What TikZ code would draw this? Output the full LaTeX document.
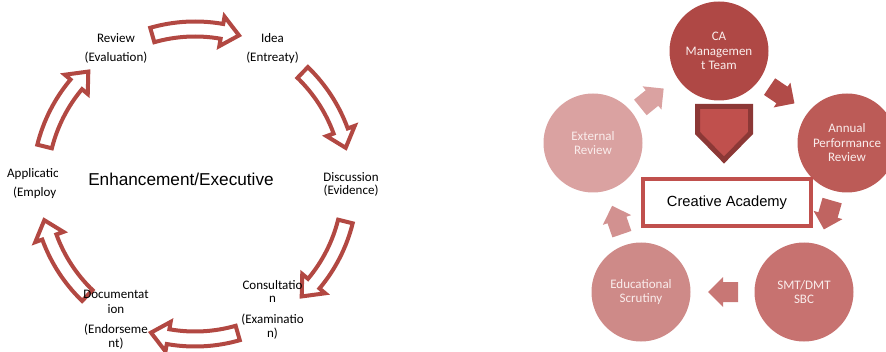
\documentclass[tikz,border=0pt]{standalone}
\usepackage{fontspec}
\setmainfont{Carlito}
\newfontfamily\arialf{Liberation Sans}
\definecolor{arcred}{HTML}{B24842}
\definecolor{cA}{HTML}{AF4845}
\definecolor{cB}{HTML}{BC5B57}
\definecolor{cC}{HTML}{C77270}
\definecolor{cD}{HTML}{CE8A88}
\definecolor{cE}{HTML}{DAA2A1}
\definecolor{boxred}{HTML}{C0504D}
\definecolor{pentdark}{HTML}{8C3836}
\definecolor{circtext}{HTML}{FAEDEC}
\tikzset{
  lbl/.style={font=\fontsize{13}{14}\selectfont, inner sep=0pt, anchor=center},
  blockarc/.style={draw=arcred, line width=4pt, fill=white},
  circ/.style={circle, minimum size=99pt, inner sep=0pt, draw=none, text=circtext, align=center, font=\fontsize{13}{14.5}\selectfont},
}
\newcommand{\smallarrow}[4]{% x, y, angle, colour
  \fill[#4, shift={(#1,#2)}, rotate=#3] (-15,-10) -- (0,-10) -- (0,-15) -- (15,0) -- (0,15) -- (0,10) -- (-15,10) -- cycle;}
\begin{document}
\begin{tikzpicture}[x=1pt, y=1pt]
\useasboundingbox (0,0) rectangle (886,351);
% ---------- left cycle ----------
\begin{scope}[shift={(195,167)}]
\def\R{155}
\foreach \c in {90,30,-30,-90,-150,150} {
  \draw[blockarc] ({\c+16}:{\R+7.5}) arc[start angle={\c+16}, end angle={\c-10}, radius={\R+7.5}]
     -- ({\c-10}:{\R+15}) -- ({\c-16.5}:{\R}) -- ({\c-10}:{\R-15}) -- ({\c-10}:{\R-7.5})
     arc[start angle={\c-10}, end angle={\c+16}, radius={\R-7.5}] -- cycle;
}
\end{scope}
\node[lbl] (rev1) at (116,313) {Review};
\node[lbl] (rev2) at (116,293) {(Evaluation)};
\node[lbl] (idea1) at (272.5,313) {Idea};
\node[lbl] (idea2) at (272.5,293) {(Entreaty)};
\node[lbl] (dis1) at (351,174) {Discussion};
\node[lbl] (dis2) at (351,160) {(Evidence)};
\node[lbl] (con1) at (272.5,66) {Consultatio};
\node[lbl] (con2) at (272.5,52) {n};
\node[lbl] (con3) at (272.5,31) {(Examinatio};
\node[lbl] (con4) at (272.5,17) {n)};
\node[lbl] (doc1) at (116,57) {Documentat};
\node[lbl] (doc2) at (116,42) {ion};
\node[lbl] (doc3) at (116,21) {(Endorseme};
\node[lbl] (doc4) at (116,7) {nt)};
\begin{scope}
\clip (0,140) rectangle (57,200);
\node[lbl, anchor=west] (app1) at (7,177) {Applicatio};
\node[lbl, anchor=west] (app2) at (13,158) {(Employ};
\end{scope}
\node[inner sep=0pt, font=\arialf\fontsize{17.2}{20}\selectfont] (enh) at (181,172) {Enhancement/Executive};
% ---------- right cycle ----------
\node[circ, fill=cA] (ca) at (719,300) {CA\\Managemen\\t Team};
\node[circ, fill=cB] (apr) at (847,208) {Annual\\Performance\\Review};
\node[circ, fill=cC] (smt) at (804,59) {SMT/DMT\\SBC};
\node[circ, fill=cD] (edu) at (641,59) {Educational\\Scrutiny};
\node[circ, fill=cE] (ext) at (593,208) {External\\Review};
\smallarrow{652}{253}{39}{cE}
\smallarrow{782}{256}{-34}{cA!85!cB}
\smallarrow{828}{136}{-106}{cB!60!cC}
\smallarrow{723}{59}{180}{cC!80!cD}
\smallarrow{617}{131}{109}{cD!70!cE}
\draw[draw=pentdark, fill=boxred, line width=5pt] (697.5,244.5) -- (750.5,244.5) -- (750.5,218) -- (724,191) -- (697.5,218) -- cycle;
\node[draw=boxred, line width=4pt, fill=white, minimum width=168pt, minimum height=47pt, inner sep=0pt,
  font=\arialf\fontsize{14.7}{17}\selectfont] (cre) at (727,148.5) {Creative Academy};
\end{tikzpicture}
\end{document}
